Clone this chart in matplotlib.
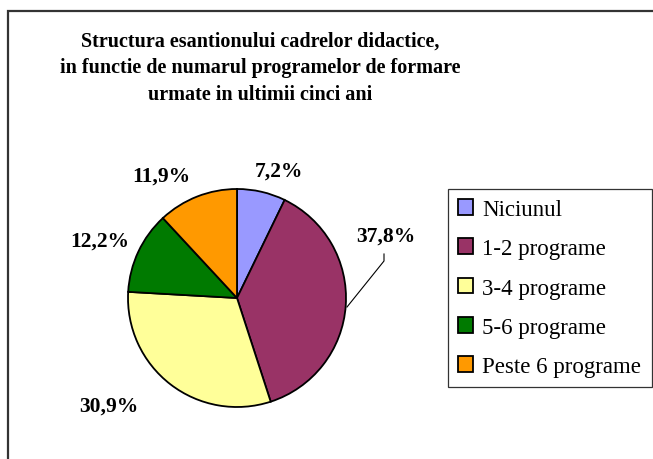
import matplotlib
matplotlib.use("Agg")
import matplotlib.pyplot as plt
from matplotlib.patches import Rectangle, Patch

categories = ["Niciunul", "1-2 programe", "3-4 programe", "5-6 programe", "Peste 6 programe"]
values = [7.2, 37.8, 30.9, 12.2, 11.9]
value_labels = ["7,2%", "37,8%", "30,9%", "12,2%", "11,9%"]
colors = ["#9999FF", "#993366", "#FFFF99", "#007A00", "#FF9900"]
title_lines = ["Structura esantionului cadrelor didactice,",
               "in functie de numarul programelor de formare",
               "urmate in ultimii cinci ani"]

W, H = 653, 460
fig = plt.figure(figsize=(W / 100, H / 100), dpi=100)
fig.patch.set_facecolor("white")
serif = ["Liberation Serif", "DejaVu Serif"]

# outer chart frame (only left/top visible)
fig.patches.append(Rectangle((8 / W, -0.1), 1.2, (1 - 12 / H) + 0.1, transform=fig.transFigure,
                             fill=False, lw=1.6, ec="#333333"))

# title
for line, base in zip(title_lines, [47, 73, 100]):
    fig.text(260 / W, 1 - base / H, line, ha="center", va="baseline",
             fontsize=14.5, fontweight="bold", family=serif)

# pie
cx, cy, r = 237, 299, 109
ax = fig.add_axes([(cx - r) / W, 1 - (cy + r) / H, 2 * r / W, 2 * r / H])
wedges, _ = ax.pie(values, colors=colors, startangle=90, counterclock=False, radius=1,
                   wedgeprops=dict(edgecolor="black", linewidth=1.3))
ax.set_xlim(-1, 1)
ax.set_ylim(-1, 1)
ax.set_aspect("equal")
ax.axis("off")

# label pixel offsets from the pie centre (layout)
label_offsets = [(42, -127), (149, -62), (-128, 108), (-137, -57), (-76, -122)]
for lab, (dx, dy) in zip(value_labels, label_offsets):
    ax.text(dx / r, -dy / r, lab, ha="center", va="center", fontsize=15.5,
            fontweight="bold", family=serif, clip_on=False)

# leader line for 37,8% (pixel offsets from centre)
lx = [147, 147, 110]
ly = [-44, -37, 9]
ax.plot([v / r for v in lx], [-v / r for v in ly], color="black", lw=0.8, clip_on=False)

# legend
handles = [Patch(facecolor=c, edgecolor="black", linewidth=1.3) for c in colors]
leg = fig.legend(handles, categories, loc="upper left",
                 bbox_to_anchor=(448 / W, 1 - 389 / H, 204 / W, 199 / H), mode="expand",
                 borderaxespad=0, fancybox=False, frameon=True, prop=dict(family=serif, size=16.5),
                 handlelength=0.66, handleheight=0.66, handletextpad=0.4, labelspacing=0.80,
                 borderpad=0.43)
leg.get_frame().set_edgecolor("black")
leg.get_frame().set_linewidth(0.9)

fig.savefig("out.png", dpi=100)
